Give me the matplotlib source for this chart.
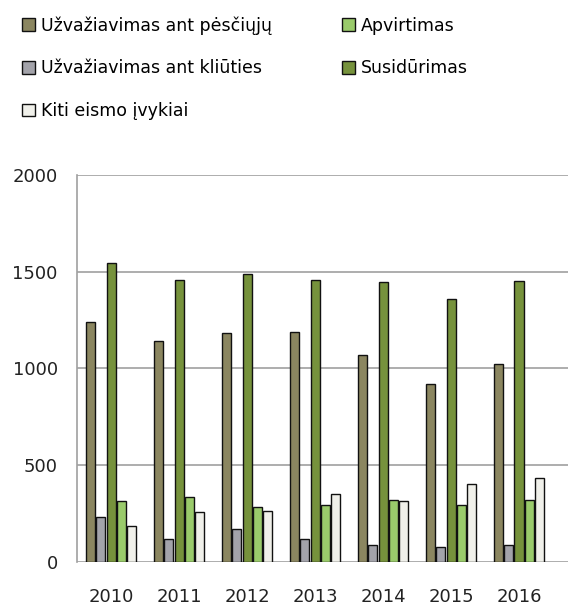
import numpy as np
import matplotlib
matplotlib.use("Agg")
import matplotlib.pyplot as plt

years = ['2010', '2011', '2012', '2013', '2014', '2015', '2016']

# values
pesciuju = [1238, 1141, 1181, 1190, 1072, 922, 1022]
kliuties = [233, 117, 167, 117, 86, 78, 86]
susidurimas = [1543, 1457, 1486, 1457, 1445, 1357, 1453]
apvirtimas = [314, 333, 284, 293, 322, 293, 322]
kiti = [184, 255, 265, 353, 314, 402, 431]

series = [
    ('Užvažiavimas ant pėsčiųjų', pesciuju, '#8b8660'),
    ('Užvažiavimas ant kliūties', kliuties, '#a3a3aa'),
    ('Susidūrimas', susidurimas, '#76923c'),
    ('Apvirtimas', apvirtimas, '#9acb6b'),
    ('Kiti eismo įvykiai', kiti, '#f0f0ea'),
]

plt.rcParams['font.family'] = ['DejaVu Sans']

fig = plt.figure(figsize=(5.68, 6.06), dpi=100)
ax = fig.add_axes([0.136, 0.073, 0.864, 0.638])

x = np.arange(len(years))
slot = 0.152
width = 0.135
bars = {}
for i, (name, vals, col) in enumerate(series):
    b = ax.bar(x + (i - 2) * slot, vals, width, color=col, edgecolor='#111111',
               linewidth=1.0, label=name, zorder=3)
    bars[name] = b

ax.set_ylim(0, 2000)
ax.set_xlim(-0.5, 6.72)
ax.set_yticks([0, 500, 1000, 1500, 2000])
ax.set_xticks(x)
ax.set_xticklabels(years)
ax.yaxis.grid(True, color='#a0a0a0', linewidth=1.2, zorder=0)
ax.tick_params(length=0, labelsize=13, colors='#222222')
ax.tick_params(axis='x', pad=19)
ax.tick_params(axis='y', pad=14)
for s in ['top', 'right', 'bottom']:
    ax.spines[s].set_visible(False)
ax.spines['left'].set_color('#a0a0a0')
ax.spines['left'].set_linewidth(1.2)

# legend: column-major order so rows read as in the picture
order = ['Užvažiavimas ant pėsčiųjų', 'Užvažiavimas ant kliūties', 'Kiti eismo įvykiai',
         'Apvirtimas', 'Susidūrimas']
handles = [bars[n] for n in order]
fig.legend(handles, order, loc='upper left', bbox_to_anchor=(0.027, 0.985), ncol=2,
           frameon=False, fontsize=12.5, handlelength=0.75, handleheight=0.75,
           handletextpad=0.35, labelspacing=1.43, columnspacing=4.0,
           borderaxespad=0.0)

fig.savefig('out.png', dpi=100)
